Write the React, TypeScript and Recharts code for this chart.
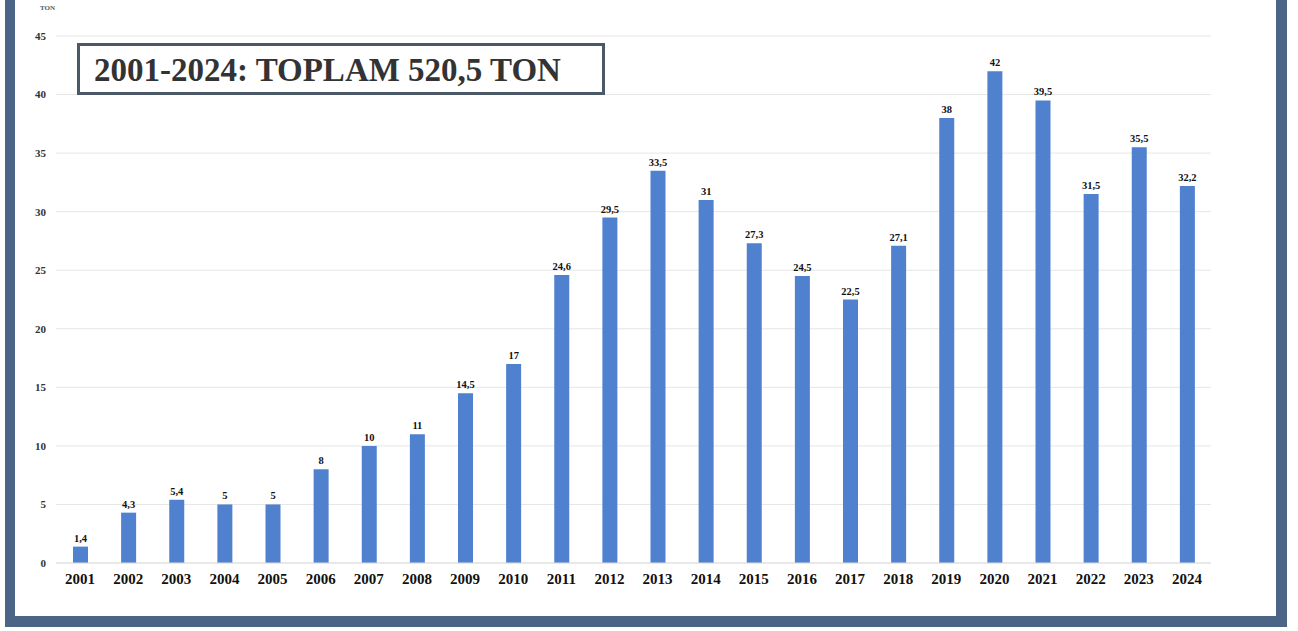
import React from 'react';
import { BarChart, Bar, XAxis, YAxis, CartesianGrid, LabelList } from 'recharts';

// yearly tonnage
const years = [
  '2001', '2002', '2003', '2004', '2005', '2006', '2007', '2008', '2009', '2010', '2011', '2012',
  '2013', '2014', '2015', '2016', '2017', '2018', '2019', '2020', '2021', '2022', '2023', '2024',
];
const tons = [
  1.4, 4.3, 5.4, 5, 5, 8, 10, 11, 14.5, 17, 24.6, 29.5,
  33.5, 31, 27.3, 24.5, 22.5, 27.1, 38, 42, 39.5, 31.5, 35.5, 32.2,
];
const yTicks = [0, 5, 10, 15, 20, 25, 30, 35, 40, 45];
const unitLabel = 'TON';
const title = '2001-2024: TOPLAM 520,5 TON';

const data = years.map((year, i) => ({ year, value: tons[i] }));

const SERIF = '"Liberation Serif", "DejaVu Serif", serif';

const fmt = (v: any) => String(v).replace('.', ',');

const App: React.FC = () => {
  return (
    <div
      style={{
        position: 'absolute',
        left: 0,
        top: 0,
        width: 1298,
        height: 631,
        background: '#fff',
        overflow: 'hidden',
      }}
    >
      {/* frame: open at the top, like the scan */}
      <div
        style={{
          position: 'absolute',
          left: 5,
          top: -20,
          width: 1287 - 5 - 21,
          height: 627 + 20 - 11,
          borderLeft: '10px solid #4b6587',
          borderRight: '11px solid #4b6587',
          borderBottom: '11px solid #4b6587',
          background: '#fff',
        }}
      />
      <div style={{ position: 'absolute', left: 0, top: 0 }}>
        <BarChart
          width={1298}
          height={631}
          data={data}
          margin={{ top: 36, right: 87, bottom: 38, left: 22 }}
        >
          <CartesianGrid vertical={false} stroke="#e6e6e6" />
          <XAxis
            dataKey="year"
            tickLine={false}
            axisLine={{ stroke: '#dddddd' }}
            interval={0}
            height={30}
            tickMargin={4}
            tick={{ fontFamily: SERIF, fontWeight: 700, fontSize: 15, fill: '#111' }}
          />
          <YAxis
            domain={[0, 45]}
            ticks={yTicks}
            width={34}
            tickLine={false}
            axisLine={false}
            tickMargin={4}
            tick={{ fontFamily: SERIF, fontWeight: 700, fontSize: 11, fill: '#333' }}
          />
          <Bar dataKey="value" fill="#4f81cf" barSize={15} isAnimationActive={false}>
            <LabelList
              dataKey="value"
              position="top"
              offset={5}
              formatter={fmt}
              style={{ fontFamily: SERIF, fontWeight: 700, fontSize: 10.5, fill: '#111' }}
            />
          </Bar>
        </BarChart>
      </div>
      <div
        style={{
          position: 'absolute',
          left: 40,
          top: 4,
          fontFamily: SERIF,
          fontSize: 7,
          fontWeight: 700,
          color: '#555',
        }}
      >
        {unitLabel}
      </div>
      <div
        style={{
          position: 'absolute',
          left: 77,
          top: 43,
          width: 508,
          height: 46,
          border: '3px solid #4a5868',
          background: '#fff',
          fontFamily: SERIF,
          fontWeight: 700,
          fontSize: 33,
          color: '#333',
          lineHeight: '48px',
          paddingLeft: 14,
          boxSizing: 'content-box',
          whiteSpace: 'nowrap',
          overflow: 'hidden',
        }}
      >
        {title}
      </div>
    </div>
  );
};

export default App;
